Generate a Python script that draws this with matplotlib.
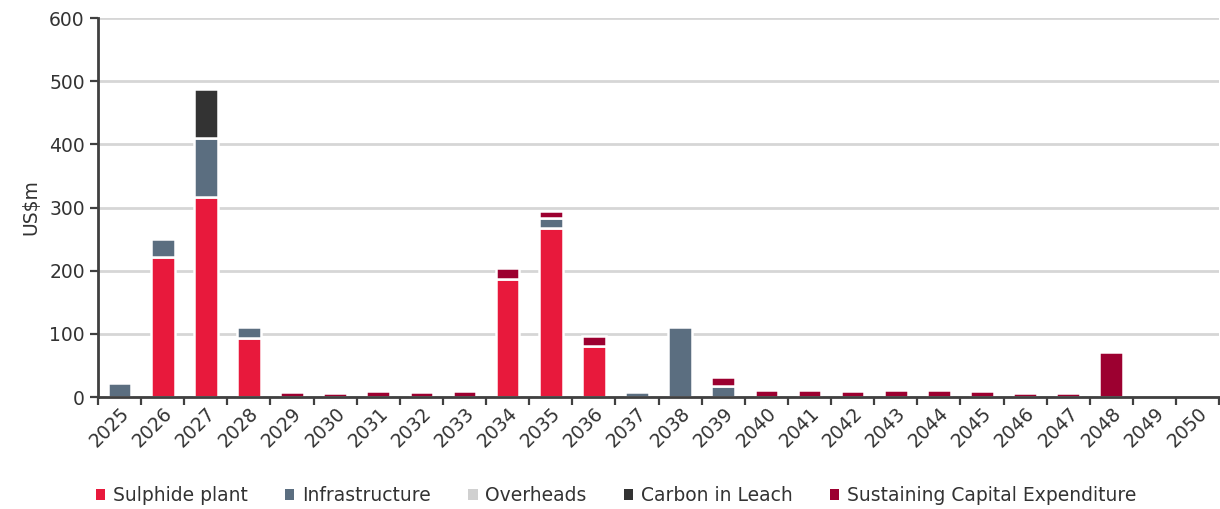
import numpy as np
import matplotlib.pyplot as plt
import matplotlib.transforms as mtransforms
from matplotlib.ticker import FixedLocator

years = [str(y) for y in range(2025, 2051)]

sulphide = [0, 222, 316, 94, 0, 0, 0, 0, 0, 187, 268, 80, 0,
            0, 0, 0, 0, 0, 0, 0, 0, 0, 0, 0, 0, 0]
infrastructure = [22, 28, 94, 17, 0, 0, 0, 0, 0, 0, 15, 0, 8,
                  111, 18, 0, 0, 0, 0, 0, 0, 0, 0, 0, 0, 0]
overheads = [0] * 26
carbon_in_leach = [0, 0, 77, 0, 0, 0, 0, 0, 0, 0, 0, 0, 0,
                   0, 0, 0, 0, 0, 0, 0, 0, 0, 0, 0, 0, 0]
sustaining = [0, 0, 0, 0, 8, 7, 9, 8, 9, 17, 12, 17, 0,
              0, 14, 11, 11, 10, 11, 11, 10, 7, 6, 71, 0, 0]

series = [
    ('Sulphide plant', sulphide, '#e8193c'),
    ('Infrastructure', infrastructure, '#5b6e80'),
    ('Overheads', overheads, '#d0d0d0'),
    ('Carbon in Leach', carbon_in_leach, '#333333'),
    ('Sustaining Capital Expenditure', sustaining, '#9c0030'),
]

plt.rcParams['font.family'] = ['DejaVu Sans']
fs = 13.5
fig = plt.figure(figsize=(12.2, 5.09), dpi=100)
ax = fig.add_axes([0.0803, 0.22, 0.919, 0.7446])

x = np.arange(len(years))
bottom = np.zeros(len(years))
for name, vals, col in series:
    vals = np.array(vals, dtype=float)
    nz = vals > 0
    ax.bar(x[nz], vals[nz], 0.55, bottom=bottom[nz], color=col,
           edgecolor='white', linewidth=1.8, zorder=2)
    # legend handle (also for empty series)
    ax.bar([0], [0], color=col, label=name)
    bottom += vals

ax.set_xlim(-0.5, len(years) - 0.5)
ax.set_ylim(0, 600)
ax.set_yticks(range(0, 601, 100))
ax.yaxis.grid(True, color='#d6d6d6', linewidth=2)
ax.set_axisbelow(True)

ax.set_xticks(x)
ax.set_xticklabels(years, rotation=45, ha='right', rotation_mode='anchor',
                   fontsize=fs, color='#333333')
offset = mtransforms.ScaledTranslation(-13 / 100, 0, fig.dpi_scale_trans)
for lab in ax.get_xticklabels():
    lab.set_transform(lab.get_transform() + offset)
ax.xaxis.set_minor_locator(FixedLocator(np.arange(-0.5, len(years), 1)))
ax.tick_params(axis='x', which='major', length=0, pad=5)
ax.tick_params(axis='x', which='minor', length=6, width=1.6, color='#404040')
ax.tick_params(axis='y', length=6, width=1.6, color='#404040',
               labelsize=fs, labelcolor='#333333')

for s in ['top', 'right']:
    ax.spines[s].set_visible(False)
for s in ['left', 'bottom']:
    ax.spines[s].set_color('#404040')
    ax.spines[s].set_linewidth(2)
    ax.spines[s].set_zorder(5)

ax.set_ylabel('US$m', fontsize=fs, color='#333333', labelpad=6)

fig.legend(loc='center', bbox_to_anchor=(0.505, 0.026), ncol=5, frameon=False,
           fontsize=fs, handlelength=0.5, handleheight=0.5,
           handletextpad=0.4, columnspacing=2.0, labelcolor='#333333')

fig.savefig('out.png', dpi=100)
